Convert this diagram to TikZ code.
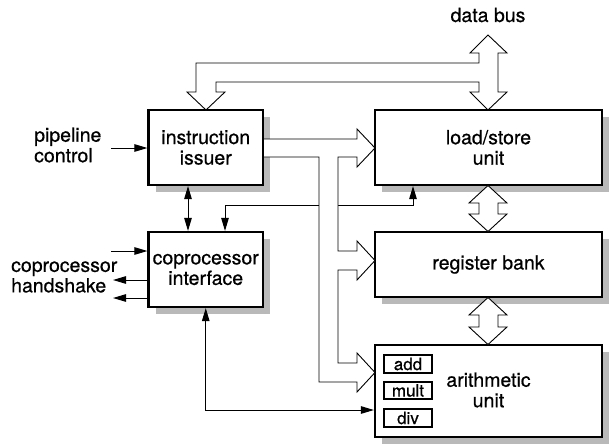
\documentclass[tikz,border=0pt]{standalone}
\usepackage{fontspec}
\setmainfont{TeX Gyre Heros}[FakeBold=0.6]
\usetikzlibrary{shadows,arrows.meta}
\begin{document}
\begin{tikzpicture}[x=1pt,y=-1pt,
  unitbox/.style={draw, line width=2.2pt, fill=white, inner sep=0pt, align=center,
    font=\fontsize{19.5}{20.5}\selectfont,
    drop shadow={shadow xshift=7pt, shadow yshift=-7pt, fill=gray!55, opacity=1}},
  subbox/.style={draw, line width=1.3pt, fill=white, inner sep=0pt,
    minimum width=48pt, font=\fontsize{17}{18}\selectfont},
  label/.style={align=left, inner sep=0pt, font=\fontsize{19.5}{20.5}\selectfont},
  sig/.style={line width=1pt, -{Triangle[length=13pt,width=7.5pt]}},
  sigboth/.style={line width=1pt, {Triangle[length=13pt,width=7.5pt]}-{Triangle[length=13pt,width=7.5pt]}},
  hollow/.style={draw, fill=white, line width=0.9pt, line join=miter}
]
\useasboundingbox (0,0) rectangle (610,445);

% functional blocks
\node[unitbox, minimum width=114.5pt, minimum height=75pt] (iss) at (205.75,147.5) {instruction\\issuer};
\node[unitbox, minimum width=114.5pt, minimum height=75pt] (cop) at (205.75,269.5) {coprocessor\\interface};
\node[unitbox, minimum width=227pt, minimum height=75pt] (ls) at (488.5,147.5) {load/store\\unit};
\node[unitbox, minimum width=227pt, minimum height=65pt] (rb) at (488.5,264.5) {register bank};
\node[unitbox, minimum width=227pt, minimum height=92pt] (au) at (488.5,391) {};
\node[align=center, inner sep=0pt, font=\fontsize{19.5}{20.5}\selectfont] (autext) at (488.5,390) {arithmetic\\unit};

% functional units inside the arithmetic unit
\node[subbox, minimum height=18pt] (add) at (408,364) {add};
\node[subbox, minimum height=17pt] (mult) at (408,390.5) {mult};
\node[subbox, minimum height=18pt] (div) at (408,418) {div};

% external labels
\node[inner sep=0pt, font=\fontsize{19.5}{20.5}\selectfont] (db) at (488,15) {data bus};
\node[label, anchor=west] (pc) at (34,145) {pipeline\\control};
\node[label, anchor=west] (hs) at (11,277) {coprocessor\\handshake};

% routing points
\coordinate (pl) at (111,148);
\coordinate (hin) at (111,251);
\coordinate (hout1) at (113,280);
\coordinate (hout2) at (113,298);
\coordinate (xa) at (188,0);
\coordinate (xb) at (225,0);
\coordinate (bend) at (413,205);
\coordinate (ydiv) at (0,410);

% control signals
\draw[sig] (pl) -- (pl -| iss.west);
\draw[sig] (hin) -- (hin -| cop.west);
\draw[sig] (hout1 -| cop.west) -- (hout1);
\draw[sig] (hout2 -| cop.west) -- (hout2);
\draw[sigboth] (iss.south -| xa) -- (cop.north -| xa);
\draw[sigboth] (ls.south -| bend) -- (bend) -| (cop.north -| xb);
\draw[sigboth] (cop.south) |- (ydiv -| au.west);

% instruction issuer output bus to the three execution blocks
\filldraw[hollow] (264,139) -- (357,139) -- (357,129) -- (375,148) -- (357,167) -- (357,157)
  -- (338,157) -- (338,251) -- (357,251) -- (357,241) -- (375,260.5) -- (357,280) -- (357,270)
  -- (338,270) -- (338,363) -- (357,363) -- (357,353) -- (375,372.5) -- (357,392) -- (357,382)
  -- (319,382) -- (319,157) -- (264,157);

% data bus to the issuer and the load/store unit
\filldraw[hollow] (488,35) -- (507,53) -- (498,53) -- (498,92) -- (507,92) -- (488,110)
  -- (470,92) -- (479,92) -- (479,82) -- (216,82) -- (216,92) -- (225,92) -- (206,110)
  -- (187,92) -- (196,92) -- (196,63) -- (479,63) -- (479,53) -- (470,53) -- cycle;

% paths between load/store unit, register bank and arithmetic unit
\filldraw[hollow] (488,185.5) -- (507,203) -- (498,203) -- (498,214) -- (507,214) -- (488,231.5)
  -- (469,214) -- (479,214) -- (479,203) -- (469,203) -- cycle;
\filldraw[hollow] (488,297.5) -- (507,315) -- (498,315) -- (498,327) -- (507,327) -- (488,344.5)
  -- (469,327) -- (479,327) -- (479,315) -- (469,315) -- cycle;
\end{tikzpicture}
\end{document}
